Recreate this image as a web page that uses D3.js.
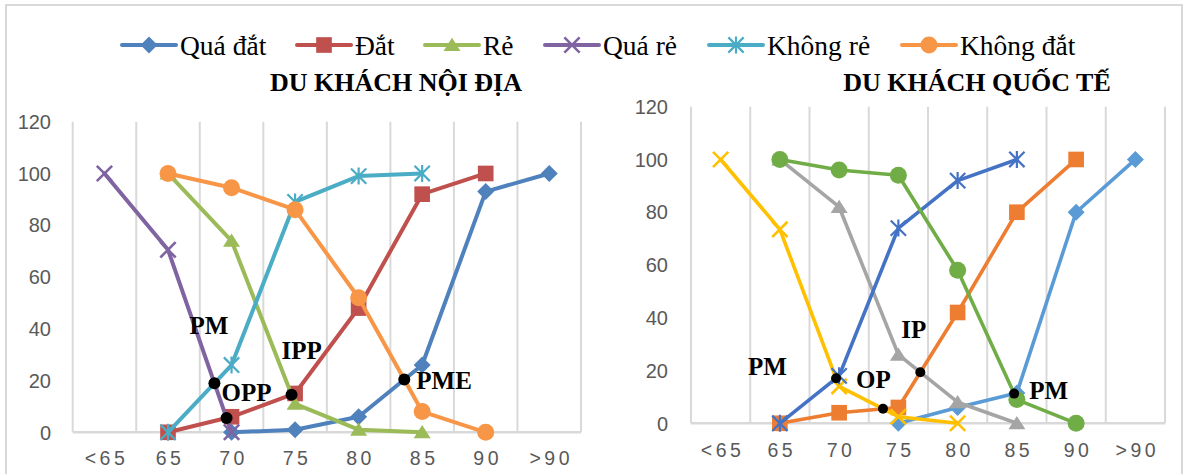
<!DOCTYPE html>
<html>
<head>
<meta charset="utf-8">
<script src="https://cdn.jsdelivr.net/npm/d3@7"></script>
<style>
  html, body { margin: 0; padding: 0; background: #ffffff; }
  svg { display: block; }
</style>
</head>
<body>
<svg id="chart" width="1184" height="474"></svg>
<script>
// Price bands (x axis) and y ticks shared by both panels
const categories = ["<65", "65", "70", "75", "80", "85", "90", ">90"];
const yTicks = [0, 20, 40, 60, 80, 100, 120];
const seriesNames = ["Quá đắt", "Đắt", "Rẻ", "Quá rẻ", "Không rẻ", "Không đắt"];
const markerShapes = ["diamond", "square", "triangle", "x", "asterisk", "circle"];

// Domestic visitors (% of respondents)
const noiDiaQuaDat   = [null, null, 0, 1, 6, 26, 93, 100];
const noiDiaDat      = [null, 0, 6, 15, 48, 92, 100, null];
const noiDiaRe       = [null, 100, 74, 11, 1, 0, null, null];
const noiDiaQuaRe    = [100, 70.5, 0, null, null, null, null, null];
const noiDiaKhongRe  = [null, 0, 26, 89, 99, 100, null, null];
const noiDiaKhongDat = [null, 100, 94.5, 86, 52, 8, 0, null];

// International visitors (% of respondents)
const quocTeQuaDat   = [null, null, null, 0, 6, 11.5, 80, 100];
const quocTeDat      = [null, 0, 4, 6, 42, 80, 100, null];
const quocTeRe       = [null, 100, 82, 26, 8, 0, null, null];
const quocTeQuaRe    = [100, 73.5, 14, 2.5, 0, null, null, null];
const quocTeKhongRe  = [null, 0, 18, 74, 92, 100, null, null];
const quocTeKhongDat = [null, 100, 96, 94, 58, 9, 0, null];

const legendColors = ["#4F81BD", "#C0504D", "#9BBB59", "#8064A2", "#4BACC6", "#F79646"];
const quocTeColors = ["#5B9BD5", "#ED7D31", "#A5A5A5", "#FFC000", "#4472C4", "#70AD47"];

// Price-point labels: crossing of two series (by index into seriesNames)
const noiDiaPoints = [
  { label: "PM",  a: 3, b: 4, dx: -25, dy: -49 },
  { label: "OPP", a: 3, b: 1, dx: -5,  dy: -17 },
  { label: "IPP", a: 2, b: 1, dx: -10, dy: -36 },
  { label: "PME", a: 0, b: 5, dx: 12,  dy: 9 }
];
const quocTePoints = [
  { label: "PM", a: 3, b: 4, dx: -88, dy: -3 },
  { label: "OP", a: 3, b: 1, dx: -27, dy: -21 },
  { label: "IP", a: 2, b: 1, dx: -19, dy: -34 },
  { label: "PM", a: 0, b: 5, dx: 15,  dy: 5 }
];

const panels = [
  {
    title: "DU KHÁCH NỘI ĐỊA", titleX: 396, titleY: 91,
    left: 72.7, right: 581, top: 121.7, bottom: 432.3,
    yLabelX: 51, xLabelY: 465,
    colors: legendColors, lineWidth: 4,
    series: [noiDiaQuaDat, noiDiaDat, noiDiaRe, noiDiaQuaRe, noiDiaKhongRe, noiDiaKhongDat],
    points: noiDiaPoints, dotR: 6
  },
  {
    title: "DU KHÁCH QUỐC TẾ", titleX: 977, titleY: 91,
    left: 691, right: 1165, top: 106.7, bottom: 423.3,
    yLabelX: 668, xLabelY: 457,
    colors: quocTeColors, lineWidth: 3.6,
    series: [quocTeQuaDat, quocTeDat, quocTeRe, quocTeQuaRe, quocTeKhongRe, quocTeKhongDat],
    points: quocTePoints, dotR: 5
  }
];

const svg = d3.select("#chart");
const gridColor = "#d9d9d9";
const tickColor = "#595959";
const serif = "'Liberation Serif', 'Times New Roman', serif";
const sans = "'Liberation Sans', Arial, sans-serif";

// outer frame
svg.append("rect")
  .attr("x", 6).attr("y", 5).attr("width", 1176).attr("height", 490)
  .attr("fill", "none").attr("stroke", gridColor).attr("stroke-width", 2);

function drawMarker(g, shape, color, size) {
  const r = size / 2;
  if (shape === "diamond") {
    g.append("path").attr("d", `M0,${-r}L${r},0L0,${r}L${-r},0Z`).attr("fill", color);
  } else if (shape === "square") {
    const s = r * 0.92;
    g.append("rect").attr("x", -s).attr("y", -s).attr("width", 2 * s).attr("height", 2 * s).attr("fill", color);
  } else if (shape === "triangle") {
    g.append("path").attr("d", `M0,${-r * 0.85}L${r},${r * 0.7}L${-r},${r * 0.7}Z`).attr("fill", color);
  } else if (shape === "circle") {
    g.append("circle").attr("r", r).attr("fill", color);
  } else if (shape === "x" || shape === "asterisk") {
    const q = r * 0.9;
    const p = shape === "x" ? `M${-q},${-q}L${q},${q}M${-q},${q}L${q},${-q}`
                            : `M${-q},${-q}L${q},${q}M${-q},${q}L${q},${-q}M0,${-r}L0,${r}`;
    g.append("path").attr("d", p).attr("stroke", color)
      .attr("stroke-width", shape === "x" ? 2.6 : 2.2).attr("fill", "none");
  }
}

// crossing of two series, in band-index units
function crossing(sa, sb) {
  for (let i = 0; i < categories.length - 1; i++) {
    if ([sa[i], sb[i], sa[i + 1], sb[i + 1]].some(v => v == null)) continue;
    const d0 = sa[i] - sb[i], d1 = sa[i + 1] - sb[i + 1];
    if (d0 === 0) return { i, t: 0, v: sa[i] };
    if (d0 * d1 < 0) {
      const t = d0 / (d0 - d1);
      return { i, t, v: sa[i] + t * (sa[i + 1] - sa[i]) };
    }
  }
  return null;
}

panels.forEach(p => {
  const x = d3.scaleBand().domain(categories).range([p.left, p.right]).padding(0);
  const y = d3.scaleLinear().domain([0, 120]).range([p.bottom, p.top]);
  const bw = x.bandwidth();
  const cx = c => x(c) + bw / 2;
  const g = svg.append("g");

  // vertical category gridlines
  g.selectAll(".vgrid").data(d3.range(categories.length + 1)).join("line")
    .attr("x1", i => p.left + i * bw).attr("x2", i => p.left + i * bw)
    .attr("y1", p.top).attr("y2", p.bottom)
    .attr("stroke", gridColor).attr("stroke-width", 2);
  // category axis line
  g.append("line").attr("x1", p.left).attr("x2", p.right)
    .attr("y1", p.bottom).attr("y2", p.bottom)
    .attr("stroke", gridColor).attr("stroke-width", 2.5);

  // y tick labels
  g.selectAll(".ytick").data(yTicks).join("text")
    .attr("x", p.yLabelX).attr("y", d => y(d)).attr("dy", "0.36em")
    .attr("text-anchor", "end").attr("fill", tickColor)
    .style("font-family", sans).style("font-size", "20px")
    .text(d => d);

  // x tick labels
  g.selectAll(".xtick").data(categories).join("text")
    .attr("x", d => cx(d) + 2).attr("y", p.xLabelY)
    .attr("text-anchor", "middle").attr("fill", tickColor)
    .style("font-family", sans).style("font-size", "19.5px").style("letter-spacing", "3.5px")
    .text(d => d);

  // title
  svg.append("text").attr("x", p.titleX).attr("y", p.titleY)
    .attr("text-anchor", "middle").attr("fill", "#000")
    .style("font-family", serif).style("font-size", "26px").style("font-weight", "bold")
    .text(p.title);

  // series lines and markers
  p.series.forEach((vals, si) => {
    const pts = categories.map((c, i) => ({ c, v: vals[i] })).filter(d => d.v != null);
    const line = d3.line().x(d => cx(d.c)).y(d => y(d.v));
    g.append("path").datum(pts).attr("d", line)
      .attr("fill", "none").attr("stroke", p.colors[si])
      .attr("stroke-width", p.lineWidth).attr("stroke-linejoin", "round").attr("stroke-linecap", "round");
    pts.forEach(d => {
      const m = g.append("g").attr("transform", `translate(${cx(d.c)},${y(d.v)})`);
      drawMarker(m, markerShapes[si], p.colors[si], 17);
    });
  });

  // price point markers and labels
  p.points.forEach(pt => {
    const cr = crossing(p.series[pt.a], p.series[pt.b]);
    if (!cr) return;
    const px = cx(categories[cr.i]) + cr.t * bw;
    const py = y(cr.v);
    g.append("circle").attr("cx", px).attr("cy", py).attr("r", p.dotR).attr("fill", "#000");
    g.append("text").attr("x", px + pt.dx).attr("y", py + pt.dy)
      .attr("fill", "#000").style("font-family", serif)
      .style("font-size", "25px").style("font-weight", "bold")
      .text(pt.label);
  });
});

// legend
const legendStarts = [122, 297, 425, 545, 709, 902];
const legendY = 45;
const lg = svg.append("g");
seriesNames.forEach((name, i) => {
  const x0 = legendStarts[i];
  lg.append("line").attr("x1", x0).attr("x2", x0 + 54).attr("y1", legendY).attr("y2", legendY)
    .attr("stroke", legendColors[i]).attr("stroke-width", 4).attr("stroke-linecap", "round");
  const m = lg.append("g").attr("transform", `translate(${x0 + 27},${legendY})`);
  drawMarker(m, markerShapes[i], legendColors[i], 17);
  lg.append("text").attr("x", x0 + 58).attr("y", legendY + 10)
    .attr("fill", "#000").style("font-family", serif).style("font-size", "27.5px")
    .text(name);
});
</script>
</body>
</html>
